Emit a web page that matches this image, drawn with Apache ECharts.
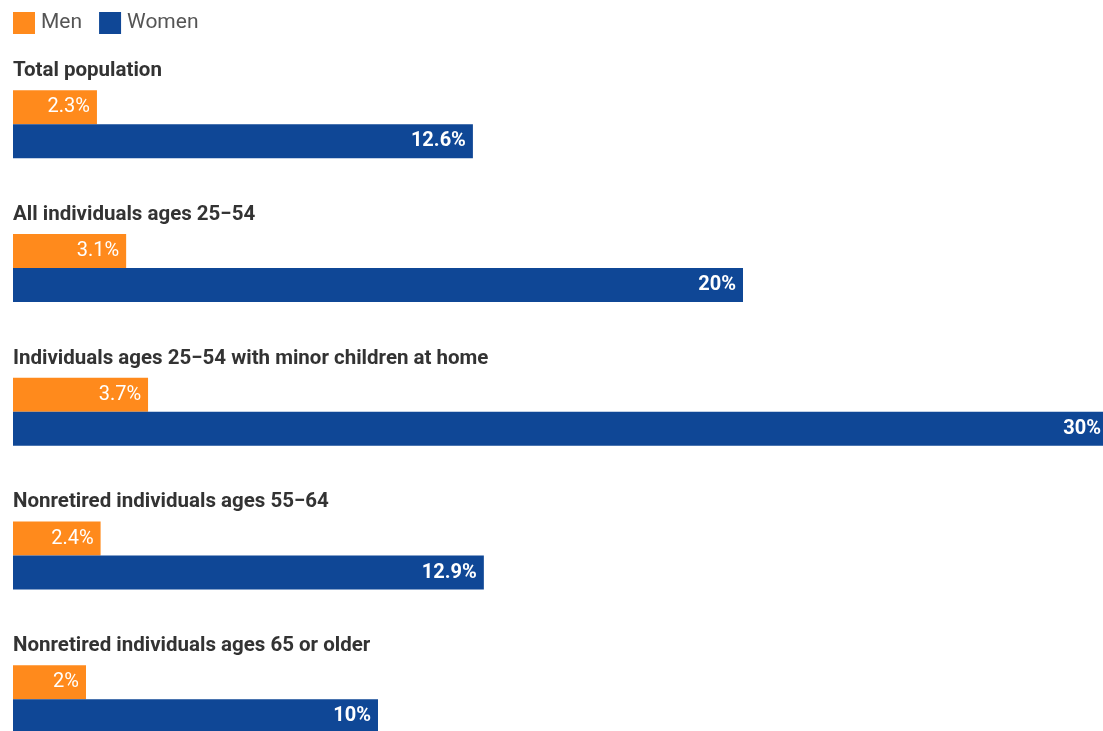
<!DOCTYPE html>
<html lang="en">
<head>
    <meta charset="UTF-8">
    <title>Men and Women</title>
    <script src="https://cdn.jsdelivr.net/npm/echarts@6/dist/echarts.min.js"></script>
    <style>
        html, body { margin: 0; padding: 0; background: #fff; }
        #app { width: 1103px; height: 731px; }
    </style>
</head>
<body>
    <div id="app"></div>
    <script>
        const categories = [
            'Total population',
            'All individuals ages 25\u221254',
            'Individuals ages 25\u221254 with minor children at home',
            'Nonretired individuals ages 55\u221264',
            'Nonretired individuals ages 65 or older'
        ];
        const men = [2.3, 3.1, 3.7, 2.4, 2];
        const women = [12.6, 20, 30, 12.9, 10];

        const myChart = echarts.init(document.getElementById('app'));

        const barLabel = (weight) => ({
            show: true,
            position: 'insideRight',
            distance: 7,
            color: '#fff',
            fontFamily: 'Roboto',
            fontSize: 20,
            fontWeight: weight,
            formatter: p => p.value + '%'
        });

        const option = {
            animation: false,
            textStyle: { fontFamily: 'Roboto' },
            legend: {
                left: 13,
                top: 12,
                padding: 0,
                itemWidth: 22,
                itemHeight: 22,
                itemGap: 17,
                icon: 'rect',
                textStyle: { color: '#555', fontSize: 21, padding: [0, 0, 0, 1] },
                data: ['Men', 'Women']
            },
            grid: {
                left: 13,
                top: 52.4,
                height: 718.75,
                right: -5,
                outerBoundsMode: 'none',
                containLabel: false
            },
            xAxis: {
                type: 'value',
                min: 0,
                max: 30,
                show: false
            },
            yAxis: {
                type: 'category',
                inverse: true,
                data: categories,
                axisLine: { show: false },
                axisTick: { show: false },
                splitLine: { show: false },
                axisLabel: {
                    inside: true,
                    margin: 0,
                    align: 'left',
                    verticalAlign: 'middle',
                    formatter: v => '{t|' + v + '}\n{g| }',
                    rich: {
                        t: { color: '#333', fontSize: 20.5, fontWeight: 'bold', lineHeight: 24 },
                        g: { fontSize: 10, lineHeight: 106.6 }
                    }
                },
                z: 10
            },
            series: [
                {
                    name: 'Men',
                    type: 'bar',
                    data: men,
                    barWidth: 34,
                    barGap: '0%',
                    itemStyle: { color: '#FF8A1C' },
                    label: barLabel('normal')
                },
                {
                    name: 'Women',
                    type: 'bar',
                    data: women,
                    barWidth: 34,
                    itemStyle: { color: '#0F4796' },
                    label: barLabel('bold')
                }
            ]
        };

        myChart.setOption(option);
    </script>
</body>
</html>
